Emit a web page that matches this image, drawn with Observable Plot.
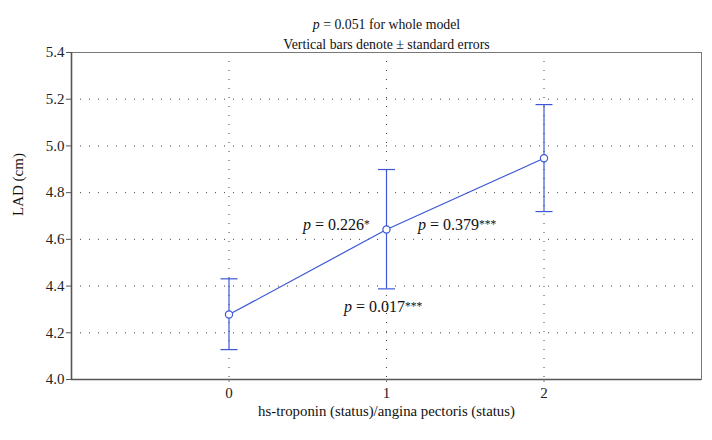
<!DOCTYPE html>
<html><head><meta charset="utf-8">
<script src="https://cdn.jsdelivr.net/npm/d3@7"></script>
<script src="https://cdn.jsdelivr.net/npm/@observablehq/plot@0.6"></script>
<style>
body{margin:0;background:#fff}
#chart svg, #chart svg text { font-family: "Liberation Serif", "Times New Roman", "DejaVu Serif", serif !important; }
</style>
</head><body><div id="chart"></div>
<script>
const groups = [0, 1, 2];
const means = [4.278, 4.642, 4.947];
const lower = [4.128, 4.388, 4.719];
const upper = [4.431, 4.899, 5.177];
const yTicks = [4.0, 4.2, 4.4, 4.6, 4.8, 5.0, 5.2, 5.4];
const yGrid = [4.2, 4.4, 4.6, 4.8, 5.0, 5.2];
const xTicks = [0, 1, 2];
const annText = ["p = 0.226*", "p = 0.379***", "p = 0.017***"];
const annX = [0.47, 1.20, 0.73];
const annY = [4.66, 4.66, 4.31];
const titleLines = ["p = 0.051 for whole model", "Vertical bars denote \u00b1 standard errors"];
const xLabel = "hs-troponin (status)/angina pectoris (status)";
const yLabel = "LAD (cm)";

const pts = groups.map((g, i) => ({g, m: means[i], lo: lower[i], hi: upper[i]}));
const anns = annText.map((t, i) => ({t, x: annX[i], y: annY[i]}));
const blue = "#3b57d6";
const capSymbol = {draw(ctx, size) { const r = Math.sqrt(size / Math.PI); ctx.moveTo(-r, 0); ctx.lineTo(r, 0); }};
const serif = "Liberation Serif";

const chart = Plot.plot({
  width: 712, height: 440,
  marginLeft: 71, marginRight: 11, marginTop: 52, marginBottom: 61,
  style: {fontFamily: serif, fontSize: "14px", color: "#222", background: "#fff"},
  x: {domain: [-1, 3], ticks: xTicks, tickFormat: d3.format("d"), tickSize: 4, label: null},
  y: {domain: [4.0, 5.4], ticks: yTicks, tickFormat: d3.format(".1f"), tickSize: 5, label: null},
  marks: [
    Plot.gridY(yGrid, {stroke: "#444", strokeOpacity: 1, strokeDasharray: "1,8", strokeWidth: 1}),
    Plot.gridX(xTicks, {stroke: "#444", strokeOpacity: 1, strokeDasharray: "1,8", strokeWidth: 1}),
    Plot.frame({stroke: "#777", strokeWidth: 1}),
    Plot.ruleX([-1], {stroke: "#555", strokeWidth: 1.6}),
    Plot.ruleY([4.0], {stroke: "#555", strokeWidth: 1.6}),
    Plot.axisY({ticks: yTicks, tickFormat: d3.format(".1f"), tickSize: 5, tickPadding: 2, stroke: "#555", fontSize: 15, fill: "#222"}),
    Plot.axisX({ticks: xTicks, tickFormat: d3.format("d"), tickSize: 3, tickPadding: 5, stroke: "#777", fontSize: 15, fill: "#222"}),
    Plot.ruleX(pts, {x: "g", y1: "lo", y2: "hi", stroke: blue, strokeWidth: 1.2}),
    Plot.dot(pts, {x: "g", y: "lo", symbol: capSymbol, r: 8.5, stroke: blue, strokeWidth: 1.2}),
    Plot.dot(pts, {x: "g", y: "hi", symbol: capSymbol, r: 8.5, stroke: blue, strokeWidth: 1.2}),
    Plot.line(pts, {x: "g", y: "m", stroke: blue, strokeWidth: 1.2}),
    Plot.dot(pts, {x: "g", y: "m", r: 3.6, stroke: blue, fill: "#fff", strokeWidth: 1.2}),
    Plot.text(anns, {x: "x", y: "y", text: "t", textAnchor: "start", fontSize: 16, fill: "#111"}),
    Plot.text([titleLines[0]], {text: d => d, frameAnchor: "top", dy: -33, fontSize: 13.8, fill: "#111"}),
    Plot.text([titleLines[1]], {text: d => d, frameAnchor: "top", dy: -13, fontSize: 13.8, fill: "#111"}),
    Plot.text([xLabel], {text: d => d, frameAnchor: "bottom", dy: 36, fontSize: 14.8, fill: "#111"}),
    Plot.text([yLabel], {text: d => d, frameAnchor: "left", dx: -53, rotate: -90, fontSize: 15, fill: "#111"})
  ]
});

// italic "p" and small asterisks
d3.select(chart).selectAll("text").each(function() {
  const el = d3.select(this);
  const s = this.textContent;
  const m = /^p( = [0-9.]+)(\**)(.*)$/.exec(s);
  if (!m) return;
  el.text(null);
  el.append("tspan").style("font-style", "italic").text("p");
  el.append("tspan").text(m[1]);
  if (m[2]) el.append("tspan").attr("font-size", "11.5px").attr("dy", "-2").text(m[2]);
  if (m[3]) el.append("tspan").text(m[3]);
});

document.getElementById("chart").appendChild(chart);
</script>
</body></html>
